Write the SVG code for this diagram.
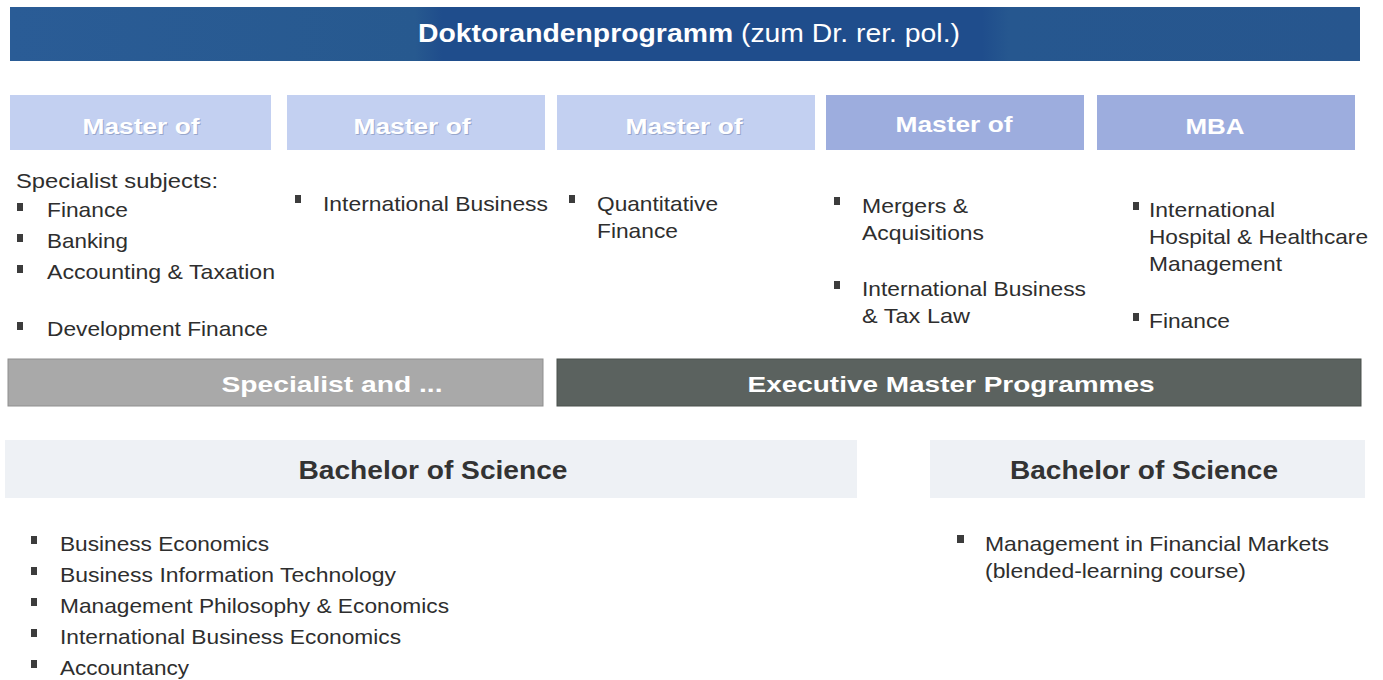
<svg xmlns="http://www.w3.org/2000/svg" width="1383" height="680" viewBox="0 0 1383 680">
<defs>
<style>
text{font-family:"Liberation Sans",Arial,sans-serif;}
.li{font-size:21px;fill:#2e2e2e;}
.hd{font-size:22px;font-weight:bold;fill:#ffffff;text-anchor:middle;}
.hds{font-size:22px;font-weight:bold;fill:#6f7fa8;text-anchor:middle;opacity:0.5;}
.bs{font-size:25px;font-weight:bold;fill:#333333;text-anchor:middle;}
.b{fill:#3c3c3c;}
</style>
<linearGradient id="topg" x1="0" y1="0" x2="1" y2="0">
<stop offset="0" stop-color="#2a5c96"/>
<stop offset="0.3" stop-color="#27598f"/>
<stop offset="0.32" stop-color="#1f4d8c"/>
<stop offset="0.72" stop-color="#1f4d8c"/>
<stop offset="0.74" stop-color="#26578f"/>
<stop offset="1" stop-color="#27568e"/>
</linearGradient>
</defs>
<rect width="1383" height="680" fill="#ffffff"/>

<g id="doktorand">
<rect x="10" y="7" width="1350" height="54" fill="url(#topg)"/>
<text x="689" y="42" font-size="25" fill="#ffffff" text-anchor="middle" textLength="542" lengthAdjust="spacingAndGlyphs"><tspan font-weight="bold">Doktorandenprogramm</tspan> (zum Dr. rer. pol.)</text>
</g>

<g id="master1">
<rect x="10" y="95" width="261" height="55" fill="#c3d0f1"/>
<text class="hds" x="142" y="135" textLength="117" lengthAdjust="spacingAndGlyphs">Master of</text>
<text class="hd" x="141" y="134" textLength="117" lengthAdjust="spacingAndGlyphs">Master of</text>
</g>
<g id="master2">
<rect x="287" y="95" width="258" height="55" fill="#c3d0f1"/>
<text class="hds" x="413" y="135" textLength="117" lengthAdjust="spacingAndGlyphs">Master of</text>
<text class="hd" x="412" y="134" textLength="117" lengthAdjust="spacingAndGlyphs">Master of</text>
</g>
<g id="master3">
<rect x="557" y="95" width="258" height="55" fill="#c3d0f1"/>
<text class="hds" x="685" y="135" textLength="117" lengthAdjust="spacingAndGlyphs">Master of</text>
<text class="hd" x="684" y="134" textLength="117" lengthAdjust="spacingAndGlyphs">Master of</text>
</g>
<g id="master4">
<rect x="826" y="95" width="258" height="55" fill="#9dadde"/>
<text class="hd" x="954" y="132" textLength="117" lengthAdjust="spacingAndGlyphs">Master of</text>
</g>
<g id="mba">
<rect x="1097" y="95" width="258" height="55" fill="#9dadde"/>
<text class="hd" x="1215" y="134" textLength="59" lengthAdjust="spacingAndGlyphs">MBA</text>
</g>

<g id="list-specialist">
<text class="li" x="16" y="188" textLength="202" lengthAdjust="spacingAndGlyphs">Specialist subjects:</text>
<rect class="b" x="17" y="203" width="6" height="8"/>
<text class="li" x="47" y="217" textLength="81" lengthAdjust="spacingAndGlyphs">Finance</text>
<rect class="b" x="17" y="234" width="6" height="8"/>
<text class="li" x="47" y="248" textLength="81" lengthAdjust="spacingAndGlyphs">Banking</text>
<rect class="b" x="17" y="265" width="6" height="8"/>
<text class="li" x="47" y="279" textLength="228" lengthAdjust="spacingAndGlyphs">Accounting &amp; Taxation</text>
<rect class="b" x="17" y="322" width="6" height="8"/>
<text class="li" x="47" y="336" textLength="221" lengthAdjust="spacingAndGlyphs">Development Finance</text>
</g>
<g id="list-ib">
<rect class="b" x="295" y="195" width="6" height="8"/>
<text class="li" x="323" y="211" textLength="225" lengthAdjust="spacingAndGlyphs">International Business</text>
</g>
<g id="list-qf">
<rect class="b" x="569" y="195" width="6" height="8"/>
<text class="li" x="597" y="211" textLength="121" lengthAdjust="spacingAndGlyphs">Quantitative</text>
<text class="li" x="597" y="238" textLength="81" lengthAdjust="spacingAndGlyphs">Finance</text>
</g>
<g id="list-exec">
<rect class="b" x="834" y="197" width="6" height="8"/>
<text class="li" x="862" y="213" textLength="106" lengthAdjust="spacingAndGlyphs">Mergers &amp;</text>
<text class="li" x="862" y="240" textLength="122" lengthAdjust="spacingAndGlyphs">Acquisitions</text>
<rect class="b" x="834" y="281" width="6" height="8"/>
<text class="li" x="862" y="296" textLength="224" lengthAdjust="spacingAndGlyphs">International Business</text>
<text class="li" x="862" y="323" textLength="108" lengthAdjust="spacingAndGlyphs">&amp; Tax Law</text>
</g>
<g id="list-mba">
<rect class="b" x="1133" y="202" width="6" height="8"/>
<text class="li" x="1149" y="217" textLength="126" lengthAdjust="spacingAndGlyphs">International</text>
<text class="li" x="1149" y="244" textLength="219" lengthAdjust="spacingAndGlyphs">Hospital &amp; Healthcare</text>
<text class="li" x="1149" y="271" textLength="133" lengthAdjust="spacingAndGlyphs">Management</text>
<rect class="b" x="1133" y="313" width="6" height="8"/>
<text class="li" x="1149" y="328" textLength="81" lengthAdjust="spacingAndGlyphs">Finance</text>
</g>

<g id="specialist-bar">
<rect x="8" y="359" width="535" height="47" fill="#a9a9a9" stroke="#8f8f8f" stroke-width="1"/>
<text class="hd" x="332" y="392" textLength="221" lengthAdjust="spacingAndGlyphs">Specialist and ...</text>
</g>
<g id="executive-bar">
<rect x="557" y="359" width="804" height="47" fill="#5b625f" stroke="#4a504d" stroke-width="1"/>
<text class="hd" x="951" y="392" textLength="407" lengthAdjust="spacingAndGlyphs">Executive Master Programmes</text>
</g>

<g id="bachelor1">
<rect x="5" y="440" width="852" height="58" fill="#eef1f5"/>
<text class="bs" x="433" y="479" textLength="269" lengthAdjust="spacingAndGlyphs">Bachelor of Science</text>
</g>
<g id="bachelor2">
<rect x="930" y="440" width="435" height="58" fill="#eef1f5"/>
<text class="bs" x="1144" y="479" textLength="268" lengthAdjust="spacingAndGlyphs">Bachelor of Science</text>
</g>

<g id="list-bachelor1">
<rect class="b" x="31" y="536" width="6" height="8"/>
<text class="li" x="60" y="551" textLength="209" lengthAdjust="spacingAndGlyphs">Business Economics</text>
<rect class="b" x="31" y="567" width="6" height="8"/>
<text class="li" x="60" y="582" textLength="336" lengthAdjust="spacingAndGlyphs">Business Information Technology</text>
<rect class="b" x="31" y="598" width="6" height="8"/>
<text class="li" x="60" y="613" textLength="389" lengthAdjust="spacingAndGlyphs">Management Philosophy &amp; Economics</text>
<rect class="b" x="31" y="629" width="6" height="8"/>
<text class="li" x="60" y="644" textLength="341" lengthAdjust="spacingAndGlyphs">International Business Economics</text>
<rect class="b" x="31" y="660" width="6" height="8"/>
<text class="li" x="60" y="675" textLength="129" lengthAdjust="spacingAndGlyphs">Accountancy</text>
</g>
<g id="list-bachelor2">
<rect class="b" x="957" y="535" width="7" height="8"/>
<text class="li" x="985" y="551" textLength="344" lengthAdjust="spacingAndGlyphs">Management in Financial Markets</text>
<text class="li" x="985" y="578" textLength="261" lengthAdjust="spacingAndGlyphs">(blended-learning course)</text>
</g>
</svg>
